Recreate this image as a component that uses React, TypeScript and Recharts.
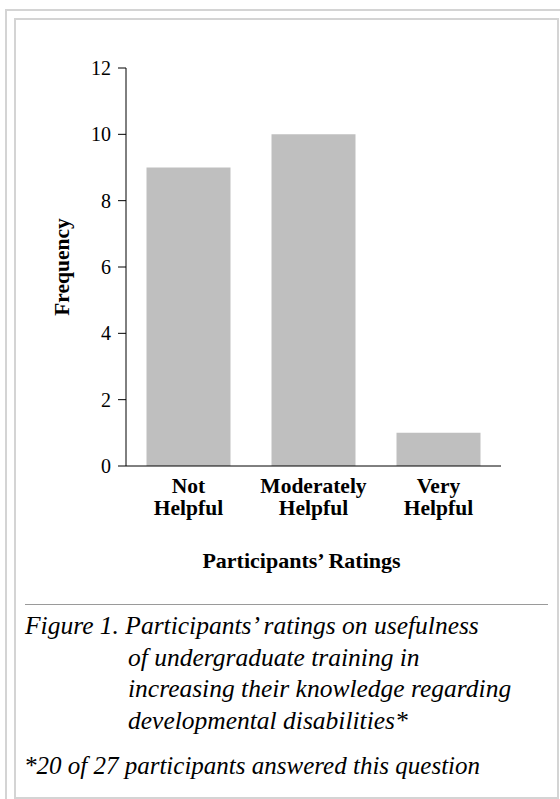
import { BarChart, Bar, XAxis, YAxis } from 'recharts';

const categories = ['Not Helpful', 'Moderately Helpful', 'Very Helpful'];
const frequencies = [9, 10, 1];
const yTicks = [0, 2, 4, 6, 8, 10, 12];
const edgeTicks = [0, 1, 2, 3];

const captionLines = [
  'Figure 1. Participants’ ratings on usefulness',
  'of undergraduate training in',
  'increasing their knowledge regarding',
  'developmental disabilities*',
];
const footnote = '*20 of 27 participants answered this question';

const serif = "'Liberation Serif', 'Times New Roman', serif";

const data = categories.map((name, i) => ({ name, value: frequencies[i] }));

function CategoryTick(props: any) {
  const { x, y, payload } = props;
  const words = String(payload.value).split(' ');
  return (
    <g>
      {words.map((w, i) => (
        <text
          key={i}
          x={x}
          y={y + 27 + i * 22}
          textAnchor="middle"
          fontFamily={serif}
          fontWeight="bold"
          fontSize={21.5}
          fill="#000"
        >
          {w}
        </text>
      ))}
    </g>
  );
}

export default function App() {
  return (
    <div style={{ position: 'absolute', left: 0, top: 0, width: 560, height: 799, overflow: 'hidden', background: '#fff' }}>
      <div style={{ position: 'absolute', left: 5, top: 9, width: 700, height: 900, border: '2px solid #d4d4d4' }} />
      <div style={{ position: 'absolute', left: 14, top: 18, width: 541, height: 777, border: '2px solid #d4d4d4' }} />

      <div style={{ position: 'absolute', left: 0, top: 0 }}>
        <BarChart width={560} height={600} data={data} margin={{ top: 68, right: 59, bottom: 24, left: 0 }} barCategoryGap="16.4%">
          <XAxis
            xAxisId="edge"
            type="number"
            domain={[0, 3]}
            ticks={edgeTicks}
            allowDataOverflow
            height={0}
            axisLine={false}
            tick={false}
            tickSize={8}
            tickLine={{ stroke: '#000' }}
          />
          <XAxis
            xAxisId="cat"
            dataKey="name"
            height={110}
            tickLine={false}
            tickSize={0}
            tickMargin={0}
            axisLine={{ stroke: '#000' }}
            tick={<CategoryTick />}
            interval={0}
            label={{
              value: 'Participants’ Ratings',
              position: 'insideBottom',
              offset: 8,
              dx: -12,
              fill: '#000',
              style: { fontFamily: serif, fontWeight: 'bold', fontSize: 22 },
            }}
          />
          <YAxis
            width={126}
            domain={[0, 12]}
            ticks={yTicks}
            interval={0}
            tickSize={8}
            tickMargin={7}
            axisLine={{ stroke: '#000' }}
            tickLine={{ stroke: '#000' }}
            tick={{ fill: '#000', fontSize: 20, fontFamily: serif }}
            label={{
              value: 'Frequency',
              angle: -90,
              position: 'insideLeft',
              offset: 61,
              fill: '#000',
              style: { textAnchor: 'middle', fontFamily: serif, fontWeight: 'bold', fontSize: 21.5 },
            }}
          />
          <Bar xAxisId="cat" dataKey="value" fill="#bfbfbf" isAnimationActive={false} />
        </BarChart>
      </div>

      <div style={{ position: 'absolute', left: 25, top: 604, width: 523, height: 0, borderTop: '1.5px solid #9a9a9a' }} />

      <div style={{ position: 'absolute', left: 25, top: 610, fontFamily: serif, fontStyle: 'italic', fontSize: 25.5, lineHeight: '31.7px', color: '#000', whiteSpace: 'nowrap' }}>
        {captionLines.map((line, i) => (
          <div key={i} style={{ paddingLeft: i === 0 ? 0 : 103 }}>
            {line}
          </div>
        ))}
      </div>
      <div style={{ position: 'absolute', left: 24, top: 750, fontFamily: serif, fontStyle: 'italic', fontSize: 25, lineHeight: '31.7px', color: '#000', whiteSpace: 'nowrap' }}>
        {footnote}
      </div>
    </div>
  );
}
